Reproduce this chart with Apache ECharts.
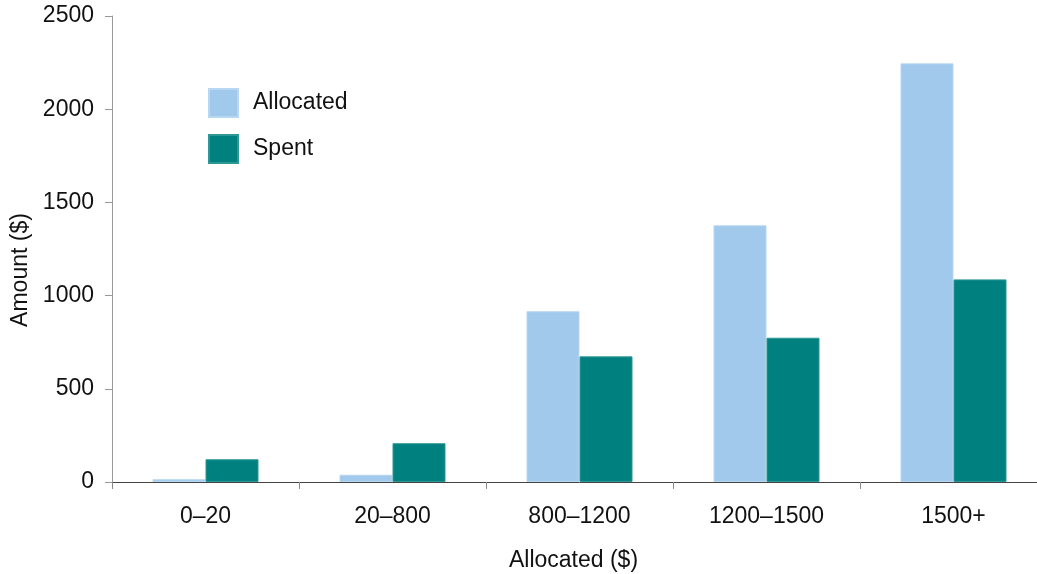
<!DOCTYPE html>
<html>
<head>
<meta charset="utf-8">
<title>Allocated vs Spent</title>
<script src="https://cdn.jsdelivr.net/npm/echarts@6/dist/echarts.min.js"></script>
<style>
  html, body { margin: 0; padding: 0; background: #fff; overflow: hidden; width: 1037px; height: 574px; }
  /* the last band runs slightly past the right edge of the page */
  #chart { width: 1047px; height: 574px; }
</style>
</head>
<body>
<div id="chart"></div>
<script>
// Spending bands and the amounts per band
const categories = ['0\u201320', '20\u2013800', '800\u20131200', '1200\u20131500', '1500+'];
const allocated = [15, 39, 916, 1377, 2246];
const spent = [122, 208, 674, 774, 1087];
const yTicks = { min: 0, max: 2500, interval: 500 };

const FONT = '"Liberation Sans", Arial, sans-serif';
const TEXT = '#111';
const SIZE = 23;

const chart = echarts.init(document.getElementById('chart'), null, { renderer: 'canvas' });

chart.setOption({
  animation: false,
  backgroundColor: '#ffffff',
  textStyle: { fontFamily: FONT },
  grid: { left: 112, right: 0, top: 16, bottom: 92, containLabel: false, outerBoundsMode: 'none' },
  legend: {
    orient: 'vertical',
    left: 208,
    top: 88,
    padding: 0,
    itemWidth: 29,
    itemHeight: 28,
    itemGap: 16,
    icon: 'rect',
    textStyle: { fontFamily: FONT, fontSize: SIZE, color: TEXT, padding: [2, 0, 0, 10] },
    data: ['Allocated', 'Spent']
  },
  xAxis: {
    type: 'category',
    data: categories,
    name: 'Allocated ($)',
    nameLocation: 'middle',
    nameGap: 67,
    nameTextStyle: { fontFamily: FONT, fontSize: SIZE, color: TEXT, padding: [0, 12, 0, 0] },
    axisLine: { show: true, lineStyle: { color: '#444', width: 1 } },
    axisTick: { show: true, length: 7, lineStyle: { color: '#888' } },
    axisLabel: { fontFamily: FONT, fontSize: SIZE, color: TEXT, margin: 23 },
    splitLine: { show: false }
  },
  yAxis: {
    type: 'value',
    min: yTicks.min,
    max: yTicks.max,
    interval: yTicks.interval,
    name: 'Amount ($)',
    nameLocation: 'middle',
    nameGap: 70,
    nameTextStyle: { fontFamily: FONT, fontSize: SIZE, color: TEXT, padding: [0, 42, 0, 0] },
    axisLine: { show: true, lineStyle: { color: '#999', width: 1 } },
    axisTick: { show: true, length: 7, lineStyle: { color: '#999' } },
    axisLabel: {
      fontFamily: FONT, fontSize: SIZE, color: TEXT, margin: 18,
      padding: [5, 0, 0, 0],
      formatter: (v) => String(v)
    },
    splitLine: { show: false }
  },
  series: [
    {
      name: 'Allocated',
      type: 'bar',
      data: allocated,
      barWidth: 53,
      barGap: '0%',
      itemStyle: { color: '#A0C9EC', borderColor: '#B7D7F2', borderWidth: 1 }
    },
    {
      name: 'Spent',
      type: 'bar',
      data: spent,
      barWidth: 53,
      barGap: '0%',
      itemStyle: { color: '#00807E', borderColor: '#2E9794', borderWidth: 1 }
    }
  ]
});
</script>
</body>
</html>
